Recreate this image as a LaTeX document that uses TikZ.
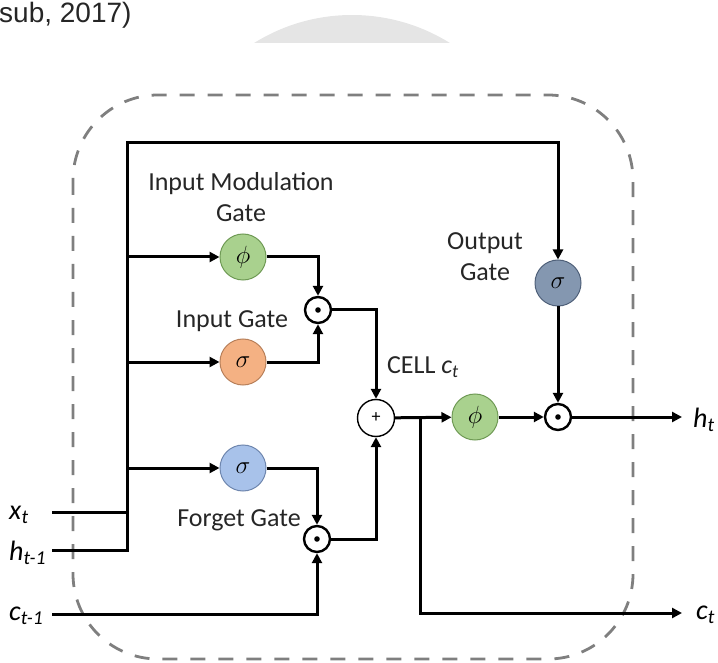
\documentclass[tikz,border=0pt]{standalone}
\usepackage{fontspec}
\setmainfont{Carlito}
\newfontfamily\arialf{Liberation Sans}
\usetikzlibrary{arrows.meta}
\definecolor{gGreen}{HTML}{A9D18E}
\definecolor{gGreenD}{HTML}{6F9A55}
\definecolor{gOrange}{HTML}{F4B183}
\definecolor{gOrangeD}{HTML}{B8805A}
\definecolor{gBlue}{HTML}{A8C2EA}
\definecolor{gBlueD}{HTML}{6E86AE}
\definecolor{gSlate}{HTML}{8497B0}
\definecolor{gSlateD}{HTML}{4F6079}
\definecolor{dashGray}{HTML}{7F7F7F}
\definecolor{txt}{HTML}{262626}
\newcommand{\vsub}[2]{\textit{#1}\textsubscript{\textit{#2}}}
\tikzset{
  wire/.style={line width=3pt, line join=miter},
  arr/.style={wire, -{Triangle[length=10pt,width=10pt]}},
  gatenode/.style={circle, minimum size=46pt, inner sep=0pt, line width=1pt, font=\fontsize{25}{25}\selectfont},
  multnode/.style={circle, minimum size=26pt, inner sep=0pt, line width=2.4pt, draw=black, fill=white},
  plusnode/.style={circle, minimum size=37pt, inner sep=0pt, line width=1.4pt, draw=black, fill=white, font=\fontsize{18}{18}\selectfont},
  lbl/.style={inner sep=0pt, text=txt, font=\fontsize{26}{31}\selectfont, align=center},
  iolbl/.style={inner sep=0pt, font=\fontsize{28}{28}\selectfont},
  dashbox/.style={draw=dashGray, line width=2.8pt, dash pattern=on 15pt off 13pt, rounded corners=85pt},
}
\begin{document}
\begin{tikzpicture}[x=1pt, y=-1pt]
\useasboundingbox (0,0) rectangle (718,663);
% top fragments
\begin{scope}
  \clip (230,0) rectangle (480,43);
  \fill[black!10] (352,200) circle (185);
\end{scope}
\node[anchor=base west, inner sep=0pt, text=txt, font=\arialf\fontsize{28}{28}\selectfont] (cite) at (-1,23) {sub, 2017)};
% dashed cell boundary
\draw[dashbox] (73,95) rectangle (633,659);
% nodes
\node[gatenode, fill=gGreen, draw=gGreenD] (imphi) at (243,257) {$\phi$};
\node[gatenode, fill=gOrange, draw=gOrangeD] (ig) at (243,362) {$\sigma$};
\node[gatenode, fill=gBlue, draw=gBlueD] (fg) at (243,468) {$\sigma$};
\node[gatenode, fill=gSlate, draw=gSlateD] (og) at (558,283) {$\sigma$};
\node[gatenode, fill=gGreen, draw=gGreenD] (cphi) at (475,417) {$\phi$};
\node[multnode] (im) at (318,310) {};
\node[multnode] (fm) at (317,539) {};
\node[multnode] (om) at (558,417) {};
\fill (im) circle (2.8);
\fill (fm) circle (2.8);
\fill (om) circle (2.8);
\node[plusnode] (plus) at (376,418) {+};
% coordinates
\coordinate (xin) at (52,512);
\coordinate (hin) at (52,550);
\coordinate (cin) at (52,614);
\coordinate (jtop) at (127,143);
\coordinate (jbot) at (127,550);
\coordinate (br) at (420,417);
\coordinate (hout) at (682,417);
\coordinate (cout) at (682,613);
% wires
\draw[wire] (xin) -- (xin -| jbot);
\draw[arr] (hin) -- (jbot) -- (jtop) -| (og);
\draw[arr] (imphi -| jtop) -- (imphi);
\draw[arr] (ig -| jtop) -- (ig);
\draw[arr] (fg -| jtop) -- (fg);
\draw[arr] (imphi) -| (im);
\draw[arr] (ig) -| (im);
\draw[arr] (fg) -| (fm);
\draw[arr] (cin) -| (fm);
\draw[arr] (im) -| (plus);
\draw[arr] (fm) -| (plus);
\draw[arr] (plus) -- (cphi);
\draw[arr] (cphi) -- (om);
\draw[arr] (og) -- (om);
\draw[arr] (om) -- (hout);
\draw[arr] (br) |- (cout);
% labels
\node[lbl] (imlbl) at (241,197) {Input Modulation\\Gate};
\node[lbl] (iglbl) at (232,321) {Input Gate};
\node[lbl] (fglbl) at (239,520) {Forget Gate};
\node[lbl] (oglbl) at (485,257) {Output\\Gate};
\node[lbl] (celllbl) at (423,367) {CELL \vsub{c}{t}};
\node[iolbl, anchor=west] (xlbl) at (9,515) {\vsub{x}{t}};
\node[iolbl, anchor=west] (hlbl) at (9,553) {\vsub{h}{t-1}};
\node[iolbl, anchor=west] (clbl) at (9,616) {\vsub{c}{t-1}};
\node[iolbl, anchor=west] (htlbl) at (693,420) {\vsub{h}{t}};
\node[iolbl, anchor=west] (ctlbl) at (696,615) {\vsub{c}{t}};
\end{tikzpicture}
\end{document}
